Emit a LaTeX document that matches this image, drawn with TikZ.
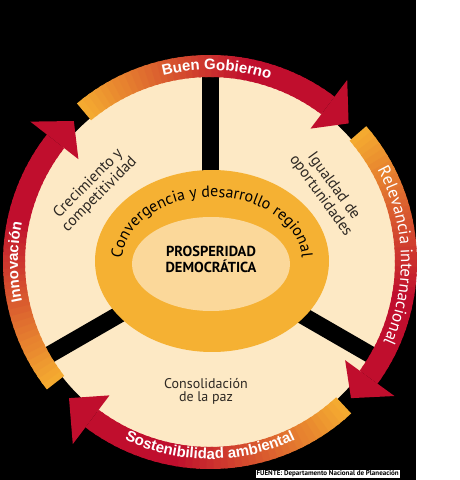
\documentclass[tikz,border=0pt]{standalone}
\usepackage{fontspec}
\setmainfont{PT Sans}
\newfontfamily\arcfamily{Liberation Sans}
\usetikzlibrary{decorations.text}
\usetikzlibrary{calc}
\definecolor{crema}{RGB}{253,233,197}
\definecolor{naranja}{RGB}{245,177,51}
\definecolor{nucleo}{RGB}{251,216,154}
\definecolor{rojo}{RGB}{192,14,45}
\definecolor{ambar}{RGB}{244,170,48}
\definecolor{tinta}{RGB}{45,40,35}
\tikzstyle{spoke}=[draw=black,line width=17pt]
\tikzstyle{sectorlabel}=[text=tinta,align=center,font=\fontsize{15.5}{16}\selectfont,inner sep=0pt]
\tikzstyle{corelabel}=[align=center,font=\fontsize{14.5}{16}\selectfont\bfseries,inner sep=0pt]
\newcommand\pillarfont{\fontsize{15}{15}\selectfont\arcfamily\bfseries\color{white}}
\newcommand\relfont{\fontsize{17}{17}\selectfont\color{white}}
\newcommand\ringfont{\fontsize{16}{16}\selectfont\color{black}}

\begin{document}
\begin{tikzpicture}[x=1pt,y=1pt]
  \useasboundingbox (0,0) rectangle (459,480);
  \fill[white] (0,0) rectangle (459,480);
  \fill[black] (0,0) rectangle (416,480);

  \coordinate (c) at (210,218);
  \coordinate (e) at (212,219);

  \fill[crema] (c) circle (187);
  \foreach \ang in {90,210,330}
     \draw[spoke] (c) -- ++(\ang:187);
  \fill[naranja] (e) ellipse (117 and 91);
  \fill[nucleo] (211,216) ellipse (79 and 47);

  \node[corelabel] (pd) at (211,221) {PROSPERIDAD\\DEMOCRÁTICA};
  \node[sectorlabel, rotate=45] (crec) at (94,291) {Crecimiento y\\competitividad};
  \node[sectorlabel, rotate=-54] (igual) at (327,289) {Igualdad de\\oportunidades};
  \node[sectorlabel, font=\fontsize{14}{13}\selectfont] (paz) at (206,89) {Consolidación\\de la paz};

  \path[decorate, decoration={text along path, text align=center,
      text={|\ringfont|Convergencia y desarrollo regional}}]
      ($(e)+(-90,0)$) arc[start angle=180, end angle=0, x radius=90, y radius=64];

  % the four arrows, orange tail to red head
  \foreach \ts/\tb/\tt in {130/53/45, 41/-36/-44, -47/-127/-136, 218/142/134}{
    \pgfmathsetmacro{\spread}{\ts-\tb}
    \foreach \i in {0,...,39}{
      \pgfmathsetmacro{\angA}{\ts-\i*\spread/40}
      \pgfmathsetmacro{\angB}{\ts-min(\i+1.4,40)*\spread/40}
      \pgfmathtruncatemacro{\mix}{min(100,\i*100/26)}
      \fill[rojo!\mix!ambar] ($(c)+(\angA:185)$) arc[start angle=\angA, end angle=\angB, radius=185]
          -- ($(c)+(\angB:207)$) arc[start angle=\angB, end angle=\angA, radius=207] -- cycle;
    }
    \fill[rojo] ($(c)+(\tb:167)$) -- ($(c)+(\tb:228)$) -- ($(c)+(\tt:196)$) -- cycle;
  }

  \path[decorate, decoration={text along path, text align=center,
      text={|\pillarfont|Buen Gobierno}}]
      ($(c)+(120:192)$) arc[start angle=120, end angle=56, radius=192];
  \path[decorate, decoration={text along path, text align=center,
      text={|\relfont|Relevancia internacional}}]
      ($(c)+(40:191)$) arc[start angle=40, end angle=-36, radius=191];
  \path[decorate, decoration={text along path, text align=center,
      text={|\pillarfont|Sostenibilidad ambiental}}]
      ($(c)+(-135:197)$) arc[start angle=-135, end angle=-45, radius=197];
  \path[decorate, decoration={text along path, text align=center,
      text={|\pillarfont|Innovación}}]
      ($(c)+(205:192)$) arc[start angle=205, end angle=155, radius=192];

  \node[fill=white, inner sep=1pt, font=\fontsize{7}{7}\selectfont\bfseries, anchor=east] (fuente) at (400,6) {FUENTE: Departamento Nacional de Planeación};
\end{tikzpicture}
\end{document}
